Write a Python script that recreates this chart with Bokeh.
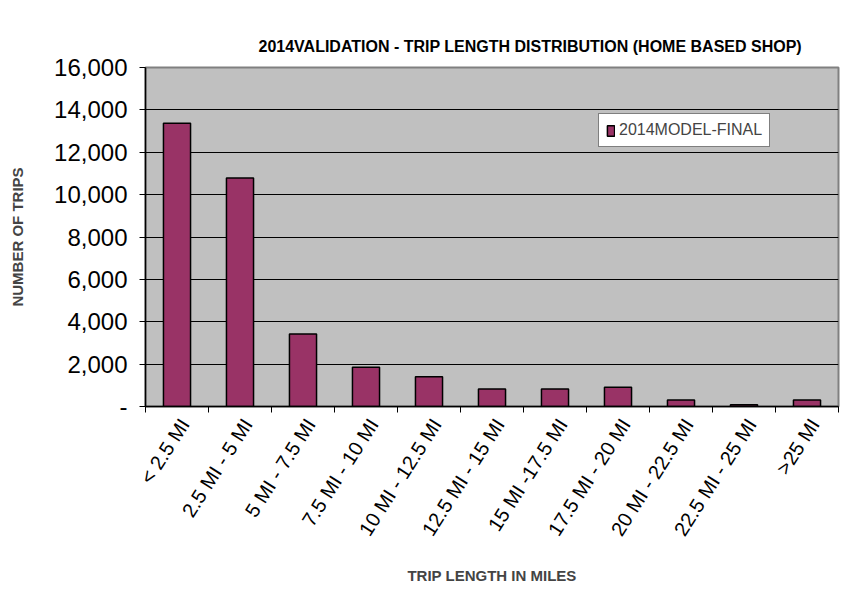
from bokeh.plotting import figure
from bokeh.models import FixedTicker, NumeralTickFormatter, Range1d, ColumnDataSource, Title
from bokeh.embed import file_html
from bokeh.resources import INLINE

categories = ["< 2.5 MI", "2.5 MI - 5 MI", "5 MI - 7.5 MI", "7.5 MI - 10 MI", "10 MI - 12.5 MI",
              "12.5 MI - 15 MI", "15 MI -17.5 MI", "17.5 MI - 20 MI", "20 MI - 22.5 MI",
              "22.5 MI - 25 MI", ">25 MI"]
model_final = [13370, 10790, 3420, 1855, 1410, 825, 825, 905, 302, 80, 302]
y_ticks = [0, 2000, 4000, 6000, 8000, 10000, 12000, 14000, 16000]

n = len(categories)
centers = [i + 0.5 for i in range(n)]
bounds = [float(i) for i in range(n + 1)]
label_pos = [c + 0.12 for c in centers]
src = ColumnDataSource(dict(x=centers, top=model_final, cat=categories))

FONT = "Liberation Sans"

p = figure(width=845, height=584, output_backend="svg", toolbar_location=None,
           x_range=Range1d(0, n), y_range=Range1d(0, 16000),
           min_border_left=145, min_border_right=7, min_border_top=67, min_border_bottom=178)
p.frame_width = 693
p.frame_height = 339

p.title = Title(text="2014VALIDATION  - TRIP LENGTH DISTRIBUTION  (HOME BASED  SHOP)",
                align="left", text_font=FONT, text_font_size="16px", text_font_style="bold",
                text_color="black", standoff=25, offset=113)

p.background_fill_color = "#C0C0C0"
p.border_fill_color = "white"
p.outline_line_color = "#808080"
p.outline_line_width = 2

p.vbar(x="x", top="top", width=0.43, source=src, fill_color="#993366",
       line_color="black", line_width=1.5, legend_label="2014MODEL-FINAL")

# grid
p.xgrid.grid_line_color = None
p.ygrid.grid_line_color = "black"
p.ygrid.grid_line_width = 1
p.ygrid.ticker = FixedTicker(ticks=y_ticks)

# y axis
ya = p.yaxis[0]
ya.ticker = FixedTicker(ticks=y_ticks)
ya.formatter = NumeralTickFormatter(format="0,0")
ya.major_label_overrides = {0: "-"}
ya.major_label_text_font = FONT
ya.major_label_text_font_size = "24px"
ya.major_label_text_color = "black"
ya.major_label_standoff = 12
ya.major_tick_out = 6
ya.major_tick_in = 0
ya.minor_tick_line_color = None
ya.axis_line_color = "black"
ya.axis_line_width = 1.5
ya.axis_label = "NUMBER OF TRIPS"
ya.axis_label_text_font = FONT
ya.axis_label_text_font_size = "15px"
ya.axis_label_text_font_style = "bold"
ya.axis_label_standoff = 25

# x axis
xa = p.xaxis[0]
xa.ticker = FixedTicker(ticks=label_pos, minor_ticks=bounds)
xa.major_label_overrides = {c: lab for c, lab in zip(label_pos, categories)}
xa.major_label_orientation = 1.0
xa.major_label_text_font = FONT
xa.major_label_text_font_size = "20px"
xa.major_label_text_color = "black"
xa.major_label_standoff = 8
xa.major_tick_line_color = None
xa.major_tick_out = 6
xa.major_tick_in = 0
xa.minor_tick_line_color = "black"
xa.minor_tick_out = 6
xa.minor_tick_in = 0
xa.axis_line_color = "black"
xa.axis_line_width = 1.5
xa.axis_label = "TRIP LENGTH IN MILES"
xa.axis_label_text_font = FONT
xa.axis_label_text_font_size = "15px"
xa.axis_label_text_font_style = "bold"
xa.axis_label_standoff = 18

# legend
lg = p.legend[0]
lg.location = (453, 259)
lg.border_line_color = "black"
lg.border_line_width = 1
lg.background_fill_color = "white"
lg.background_fill_alpha = 1
lg.label_text_font = FONT
lg.label_text_font_size = "16px"
lg.glyph_width = 9
lg.glyph_height = 13
lg.label_standoff = 4
lg.padding = 7
lg.spacing = 0
lg.margin = 0

open("out.html", "w").write(file_html(p, INLINE))
